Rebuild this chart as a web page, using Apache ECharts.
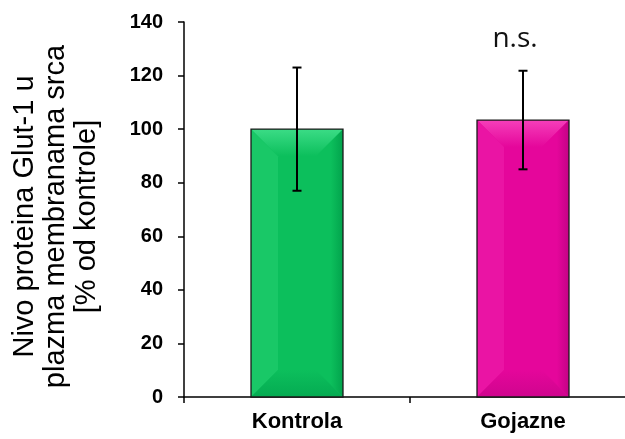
<!DOCTYPE html>
<html>
<head>
<meta charset="utf-8">
<script src="https://cdn.jsdelivr.net/npm/echarts@6/dist/echarts.min.js"></script>
<style>
  html, body { margin: 0; padding: 0; background: #fff; }
  #chart { width: 625px; height: 439px; }
</style>
</head>
<body>
<div id="chart"></div>
<script>
// Glut-1 protein level in heart plasma membranes, % of control
const categories = ['Kontrola', 'Gojazne'];
const means = [100, 103.4];
const errors = [23, 18.4];
const notes = ['', 'n.s.'];
const yTicks = [0, 20, 40, 60, 80, 100, 120, 140];

// bevelled bar shading: face, top, left, right, bottom
const palettes = [
  { face: '#0cbf5c', top: '#3bdc86', left: '#19c867', right: '#02a34c', bottom: '#05ab52' },
  { face: '#e5069b', top: '#f53fba', left: '#ea14a4', right: '#c40386', bottom: '#cf058e' }
];

const FONT = '"Liberation Sans", Arial, sans-serif';

function renderBevelBar(params, api) {
  const idx = api.value(0);
  const val = api.value(1);
  const top = api.coord([idx, val]);
  const base = api.coord([idx, 0]);
  const bw = api.size([1, 0])[0] * 0.407;
  const x0 = top[0] - bw / 2, x1 = top[0] + bw / 2;
  const y0 = top[1], y1 = base[1];
  const b = Math.min(27, bw * 0.3, (y1 - y0) / 2);
  const p = palettes[params.dataIndex];
  return {
    type: 'group',
    children: [
      { type: 'rect', shape: { x: x0, y: y0, width: bw, height: y1 - y0 }, style: { fill: p.face } },
      { type: 'polygon', shape: { points: [[x0, y0], [x1, y0], [x1 - b, y0 + b], [x0 + b, y0 + b]] },
        style: { fill: { type: 'linear', x: 0, y: 0, x2: 0, y2: 1, colorStops: [{ offset: 0, color: p.top }, { offset: 1, color: p.face }] } } },
      { type: 'polygon', shape: { points: [[x0, y0], [x0 + b, y0 + b], [x0 + b, y1 - b], [x0, y1]] }, style: { fill: p.left } },
      { type: 'polygon', shape: { points: [[x1, y0], [x1, y1], [x1 - b, y1 - b], [x1 - b, y0 + b]] },
        style: { fill: { type: 'linear', x: 1, y: 0, x2: 0, y2: 0, colorStops: [{ offset: 0, color: p.right }, { offset: 0.45, color: p.face }, { offset: 1, color: p.face }] } } },
      { type: 'polygon', shape: { points: [[x0, y1], [x0 + b, y1 - b], [x1 - b, y1 - b], [x1, y1]] },
        style: { fill: { type: 'linear', x: 0, y: 1, x2: 0, y2: 0, colorStops: [{ offset: 0, color: p.bottom }, { offset: 1, color: p.face }] } } },
      { type: 'rect', shape: { x: x0, y: y0, width: bw, height: y1 - y0 }, style: { fill: 'none', stroke: '#1a1a1a', lineWidth: 1.3 } }
    ]
  };
}

function renderErrorBar(params, api) {
  const idx = api.value(0);
  const m = api.value(1);
  const e = api.value(2);
  const hi = api.coord([idx, m + e]);
  const lo = api.coord([idx, m - e]);
  const cap = 4.5;
  const line = { stroke: '#000', lineWidth: 2 };
  const children = [
    { type: 'line', shape: { x1: hi[0], y1: hi[1], x2: lo[0], y2: lo[1] }, style: line },
    { type: 'line', shape: { x1: hi[0] - cap, y1: hi[1], x2: hi[0] + cap, y2: hi[1] }, style: line },
    { type: 'line', shape: { x1: lo[0] - cap, y1: lo[1], x2: lo[0] + cap, y2: lo[1] }, style: line }
  ];
  const note = notes[params.dataIndex];
  if (note) {
    children.push({
      type: 'text',
      style: { x: hi[0] - 8, y: hi[1] - 32, text: note, fill: '#111', font: '28px "Open Sans", "Noto Sans", sans-serif', align: 'center', verticalAlign: 'middle' }
    });
  }
  return { type: 'group', children };
}

const chart = echarts.init(document.getElementById('chart'), null, { renderer: 'canvas' });
chart.setOption({
  animation: false,
  backgroundColor: '#fff',
  grid: { left: 184, top: 22, width: 452, bottom: 42, containLabel: false, outerBoundsMode: 'none' },
  xAxis: {
    type: 'category',
    data: categories,
    boundaryGap: true,
    axisLine: { lineStyle: { color: '#000', width: 1.5 } },
    axisTick: { show: true, length: 6, lineStyle: { color: '#000', width: 1.5 } },
    axisLabel: { color: '#000', fontFamily: FONT, fontWeight: 'bold', fontSize: 22, margin: 14 },
    splitLine: { show: false }
  },
  yAxis: {
    type: 'value',
    min: yTicks[0],
    max: yTicks[yTicks.length - 1],
    interval: yTicks[1] - yTicks[0],
    name: 'Nivo proteina Glut-1 u\nplazma membranama srca\n[% od kontrole]',
    nameLocation: 'middle',
    nameRotate: 90,
    nameGap: 82,
    nameTextStyle: { color: '#000', fontFamily: FONT, fontSize: 29, lineHeight: 31, align: 'center', padding: [0, 14, 0, 0] },
    axisLine: { show: true, lineStyle: { color: '#000', width: 1.5 } },
    axisTick: { show: true, length: 6, lineStyle: { color: '#000', width: 1.5 } },
    axisLabel: { color: '#000', fontFamily: FONT, fontWeight: 'bold', fontSize: 20, margin: 21 },
    splitLine: { show: false }
  },
  series: [
    {
      type: 'custom',
      renderItem: renderBevelBar,
      encode: { x: 0, y: 1 },
      data: means.map((v, i) => [i, v]),
      z: 2
    },
    {
      type: 'custom',
      renderItem: renderErrorBar,
      encode: { x: 0, y: 1 },
      data: means.map((v, i) => [i, v, errors[i]]),
      z: 3
    }
  ]
});
</script>
</body>
</html>
